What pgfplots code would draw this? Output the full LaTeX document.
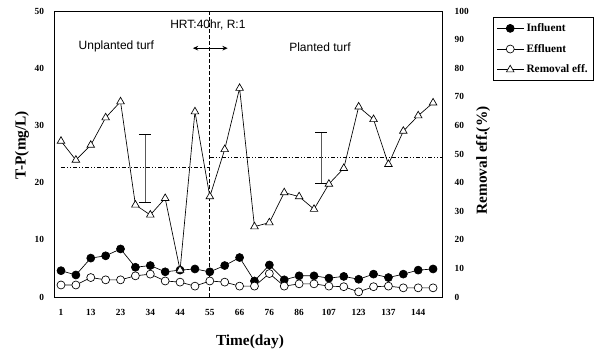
\documentclass[border=0pt]{standalone}
\usepackage{fontspec}
\setmainfont{Liberation Serif}
\newfontfamily\arial{Liberation Sans}
\usepackage{pgfplots}
\usepackage{pgfplotstable}
\pgfplotsset{compat=1.18}
\usetikzlibrary{arrows.meta}

\pgfplotstableread{
i inf eff rem
0 4.6 2.1 54.5
1 3.85 2.1 47.9
2 6.8 3.4 53.1
3 7.2 3.0 62.7
4 8.4 3.0 68.3
5 5.2 3.7 32.2
6 5.5 4.0 28.7
7 4.4 2.8 34.5
8 4.7 2.6 9.4
9 4.9 1.9 64.8
10 4.4 2.8 35.1
11 5.5 2.6 51.6
12 6.9 1.9 73.0
13 2.8 1.9 24.6
14 5.6 4.1 26.0
15 3.0 1.9 36.5
16 3.7 2.3 35.1
17 3.7 2.3 30.7
18 3.3 1.9 39.5
19 3.6 1.8 45.0
20 3.1 0.9 66.5
21 4.0 1.8 62.1
22 3.4 1.9 46.4
23 4.0 1.6 58.0
24 4.7 1.6 63.4
25 4.9 1.6 67.9
}\data

\begin{document}
\begin{tikzpicture}[x=1pt,y=1pt]
\useasboundingbox (0,0) rectangle (450,267);
\pgfplotsset{every axis/.append style={
  scale only axis, width=291pt, height=214.5pt,
  at={(40.5pt,44.25pt)}, anchor=south west,
  xmin=-0.47, xmax=25.6, clip=false,
  tick style={draw=none},
  /pgf/number format/assume math mode=true,
  ticklabel style={font=\fontsize{7}{8}\selectfont\bfseries},
}}
\begin{axis}[
  ymin=0, ymax=50, ytick={0,10,...,50},
  ytick pos=left, xtick pos=bottom,
  xtick={0,2,...,24},
  xticklabels={1,13,23,34,44,55,66,76,86,107,123,137,144},
  xticklabel style={yshift=-6pt},
  yticklabel style={xshift=-4pt},
  axis line style={black, line width=0.6pt},
]
\addplot[black, line width=1pt, dash pattern=on 3pt off 1.5pt] coordinates {(10,0) (10,50)};
\addplot[black, line width=0.5pt, mark=*, mark size=3pt, mark options={fill=black, solid}] table[x=i,y=inf]{\data};
\addplot[black, line width=0.5pt, mark=*, mark size=3pt, mark options={fill=white, solid}] table[x=i,y=eff]{\data};
\node[font=\arial\fontsize{9}{10}\selectfont] at (axis cs:9.87,47.6) {HRT:40hr, R:1};
\node[font=\arial\fontsize{9}{10}\selectfont] at (axis cs:3.72,43.8) {Unplanted turf};
\node[font=\arial\fontsize{9}{10}\selectfont] at (axis cs:17.4,43.6) {Planted turf};
\draw[{Stealth[length=4pt,width=3.5pt]}-{Stealth[length=4pt,width=3.5pt]}, line width=0.8pt] (axis cs:8.86,43.5) -- (axis cs:11.2,43.5);
\node[rotate=90, font=\fontsize{11.5}{12}\selectfont\bfseries] at (rel axis cs:-0.0825,0.531) {T-P(mg/L)};
\node[font=\fontsize{11.5}{12}\selectfont\bfseries] at (rel axis cs:0.505,-0.157) {Time(day)};
\end{axis}
\begin{axis}[
  ymin=0, ymax=100, ytick={0,10,...,100},
  axis y line*=right, axis x line=none,
  yticklabel style={xshift=6pt},
  axis line style={black, line width=0.6pt},
  legend style={at={(1.131,0.979)}, anchor=north west, draw=black, line width=0.6pt,
    font=\fontsize{8.5}{9}\selectfont\bfseries, row sep=4pt, inner sep=2.5pt},
  legend cell align=left,
  legend image code/.code={\draw[mark repeat=2,mark phase=2,#1] plot coordinates {(0pt,0pt) (10pt,0pt) (20pt,0pt)};},
]
\addlegendimage{black, line width=0.5pt, mark=*, mark size=3pt, mark options={fill=black}}
\addlegendentry{Influent}
\addlegendimage{black, line width=0.5pt, mark=*, mark size=3pt, mark options={fill=white}}
\addlegendentry{Effluent}
\addplot[forget plot, black, line width=0.5pt, dash pattern=on 3pt off 1.5pt on 0.8pt off 1.5pt on 0.8pt off 1.5pt] coordinates {(0,45.2) (10,45.2)};
\addplot[forget plot, black, line width=0.5pt, dash pattern=on 3pt off 1.5pt on 0.8pt off 1.5pt on 0.8pt off 1.5pt] coordinates {(10,48.8) (25.6,48.8)};
\addplot[forget plot, draw=none, mark=none,
  error bars/.cd, y dir=both, y explicit,
  error bar style={draw=gray!70!black, line width=0.6pt, solid},
  error mark options={rotate=90, draw=black, mark size=4.5pt, line width=0.6pt}]
  coordinates {(5.64,45) +- (0,12) (17.5,48.7) +- (0,8.9)};
\addplot[black, line width=0.5pt, mark=triangle*, mark size=3.3pt, mark options={fill=white, solid}] table[x=i,y=rem]{\data};
\addlegendentry{Removal eff.}
\node[rotate=90, font=\fontsize{11.5}{12}\selectfont\bfseries] at (rel axis cs:1.106,0.477) {Removal eff.(\%)};
\end{axis}
\end{tikzpicture}
\end{document}
